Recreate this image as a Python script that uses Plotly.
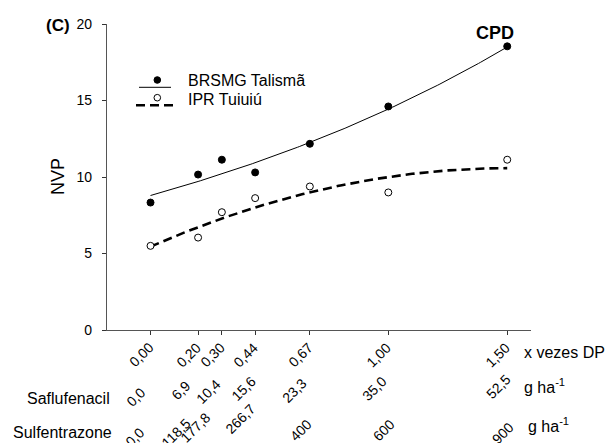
import numpy as np
import plotly.graph_objects as go

# ---- data -------------------------------------------------------------
dose_factor = [0.00, 0.20, 0.30, 0.44, 0.67, 1.00, 1.50]
dose_labels = ["0,00", "0,20", "0,30", "0,44", "0,67", "1,00", "1,50"]
saflufenacil_labels = ["0,0", "6,9", "10,4", "15,6", "23,3", "35,0", "52,5"]
sulfentrazone_labels = ["0,0", "118,5", "177,8", "266,7", "400", "600", "900"]

talisma_nvp = [8.33, 10.16, 11.13, 10.30, 12.17, 14.61, 18.54]
tuiuiu_nvp = [5.50, 6.04, 7.70, 8.62, 9.38, 8.99, 11.13]

y_ticks = [0, 5, 10, 15, 20]

# regression models: BRSMG Talismã  y = a*exp(b*x)
talisma_coef = (8.79, 0.496)
# IPR Tuiuiú  y = c + b*x + a*x^2
tuiuiu_coef = (5.45, 6.81, -2.26)

curve_x = np.linspace(0, 1.5, 200)
talisma_fit = talisma_coef[0] * np.exp(talisma_coef[1] * curve_x)
tuiuiu_fit = (tuiuiu_coef[0] + tuiuiu_coef[1] * curve_x
              + tuiuiu_coef[2] * curve_x ** 2)

# ---- geometry of the plotting area (pixels) ---------------------------
FIG_W, FIG_H = 607, 443
PL, PT, PW, PH = 107, 24, 424, 306
X_RANGE = [-0.183, 1.6]
FONT = "Arial, Liberation Sans, sans-serif"


def px_x(px):
    return (px - PL) / PW


def px_y(py):
    return (PT + PH - py) / PH


fig = go.Figure()

fig.add_trace(go.Scatter(x=curve_x, y=talisma_fit, mode="lines",
                         line=dict(color="black", width=1),
                         showlegend=False, hoverinfo="skip"))
fig.add_trace(go.Scatter(x=curve_x, y=tuiuiu_fit, mode="lines",
                         line=dict(color="black", width=2.6, dash="9px,5px"),
                         showlegend=False, hoverinfo="skip"))
fig.add_trace(go.Scatter(x=dose_factor, y=talisma_nvp, mode="markers",
                         name="BRSMG Talismã",
                         marker=dict(color="black", size=7,
                                     line=dict(color="black", width=1)),
                         showlegend=False))
fig.add_trace(go.Scatter(x=dose_factor, y=tuiuiu_nvp, mode="markers",
                         name="IPR Tuiuiú",
                         marker=dict(color="white", size=7,
                                     line=dict(color="black", width=1)),
                         showlegend=False))

shapes = []
annotations = []

# ---- legend (drawn by hand: marker sits above the line sample) -------
legend_rows = [
    ("BRSMG Talismã", "solid", "black", 80, 87.3),
    ("IPR Tuiuiú", "dash", "white", 99.3, 105.3),
]
for text, style, fill, text_y, line_y in legend_rows:
    if style == "solid":
        shapes.append(dict(type="line", xref="paper", yref="paper",
                           x0=px_x(139), x1=px_x(171),
                           y0=px_y(line_y), y1=px_y(line_y),
                           line=dict(color="black", width=1)))
    else:
        shapes.append(dict(type="line", xref="paper", yref="paper",
                           x0=px_x(136), x1=px_x(173),
                           y0=px_y(line_y), y1=px_y(line_y),
                           line=dict(color="black", width=2.6,
                                     dash="9px,5px")))
    cy = text_y if style == "solid" else text_y - 1.6
    shapes.append(dict(type="circle", xref="paper", yref="paper",
                       xsizemode="pixel", ysizemode="pixel",
                       xanchor=px_x(157.3), yanchor=px_y(cy),
                       x0=-3.3, x1=3.3, y0=-3.3, y1=3.3,
                       fillcolor=fill, line=dict(color="black", width=1)))
    annotations.append(dict(xref="paper", yref="paper",
                            x=px_x(186), y=px_y(text_y),
                            xanchor="left", yanchor="middle",
                            text=text, showarrow=False,
                            font=dict(family=FONT, size=16, color="black")))

# ---- rotated dose labels under the x axis -----------------------------
row1_pos = [(-9.5, 355)] * 7
row2_pos = [(-14.5, 397), (-17, 390), (-13.8, 392), (-12, 389),
            (-15.8, 391), (-14.3, 389), (-9.2, 387)]
row3_pos = [(-15.5, 437), (-22, 433), (-26.8, 428), (-15, 419),
            (-8.8, 430), (-4.3, 430), (-4.2, 433)]

for labels, positions in ((dose_labels, row1_pos),
                          (saflufenacil_labels, row2_pos),
                          (sulfentrazone_labels, row3_pos)):
    for xv, lab, (dx, py) in zip(dose_factor, labels, positions):
        annotations.append(dict(xref="x", yref="paper", x=xv, xshift=dx,
                                y=px_y(py), xanchor="center",
                                yanchor="middle", textangle=-45,
                                text=lab, showarrow=False,
                                font=dict(family=FONT, size=14,
                                          color="black")))

# row captions and units
side_texts = [
    ("Saflufenacil", 111.5, 398, "right"),
    ("Sulfentrazone", 113.5, 432, "right"),
    ("x vezes DP", 522, 352, "left"),
    ("g ha<sup>-1</sup>", 522, 386, "left"),
    ("g ha<sup>-1</sup>", 526, 425, "left"),
]
for text, px, py, anchor in side_texts:
    annotations.append(dict(xref="paper", yref="paper", x=px_x(px),
                            y=px_y(py), xanchor=anchor, yanchor="middle",
                            text=text, showarrow=False,
                            font=dict(family=FONT, size=16, color="black")))

# panel tag, series tag, axis title
annotations.append(dict(xref="paper", yref="paper", x=px_x(58), y=px_y(26),
                        xanchor="center", yanchor="middle", text="<b>(C)</b>",
                        showarrow=False,
                        font=dict(family=FONT, size=17, color="black")))
annotations.append(dict(xref="paper", yref="paper", x=px_x(495),
                        y=px_y(33), xanchor="center", yanchor="middle",
                        text="<b>CPD</b>", showarrow=False,
                        font=dict(family=FONT, size=18, color="black")))
annotations.append(dict(xref="paper", yref="paper", x=px_x(58),
                        y=0.5, xanchor="center", yanchor="middle",
                        text="NVP", textangle=-90, showarrow=False,
                        font=dict(family=FONT, size=18, color="black")))

fig.update_layout(
    width=FIG_W, height=FIG_H,
    margin=dict(l=PL, r=FIG_W - PL - PW, t=PT, b=FIG_H - PT - PH, pad=0),
    paper_bgcolor="white", plot_bgcolor="white",
    font=dict(family=FONT, size=14, color="black"),
    shapes=shapes, annotations=annotations,
    xaxis=dict(range=X_RANGE, tickvals=dose_factor, showticklabels=False,
               ticks="outside", ticklen=4, tickcolor="#333", tickwidth=1,
               showline=True, linecolor="#555", linewidth=1.3,
               showgrid=False, zeroline=False, fixedrange=True),
    yaxis=dict(range=[0, 20], tickvals=y_ticks, ticks="outside", ticklen=4,
               tickcolor="#333", tickwidth=1, showline=True,
               linecolor="#555", linewidth=1.3, showgrid=False,
               zeroline=False, ticklabelstandoff=7,
               tickfont=dict(family=FONT, size=14, color="black"),
               fixedrange=True),
)

fig.write_html("out.html")
